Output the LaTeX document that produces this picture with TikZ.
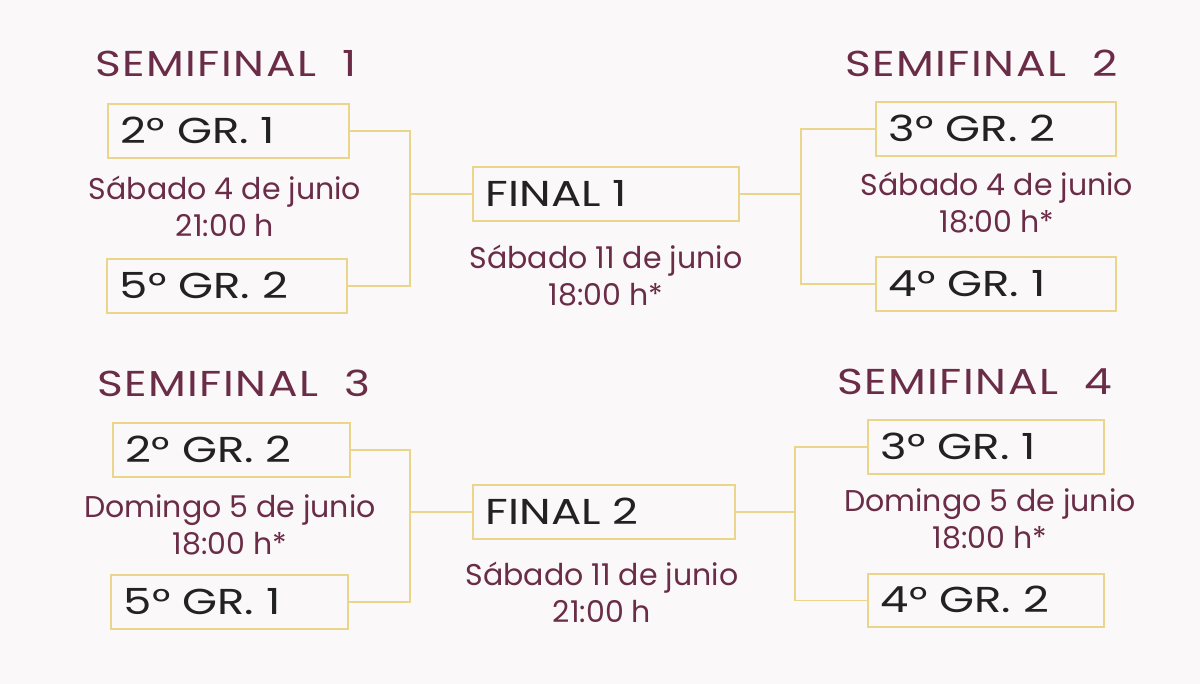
\documentclass[tikz,border=0pt]{standalone}
\usepackage{fontspec}
\setmainfont{Poppins}
\newfontfamily\boxfont{Poppins}[FakeStretch=1.25]
\newfontfamily\titlefont{Poppins}[FakeStretch=1.22, LetterSpace=4]
\definecolor{bg}{HTML}{FAF8F8}
\definecolor{gold}{HTML}{EBD58A}
\definecolor{maroon}{HTML}{6A2C47}
\definecolor{ink}{HTML}{222222}
\tikzset{
  teambox/.style={draw=gold, line width=1.6pt, rectangle, anchor=north west, inner xsep=13pt, inner ysep=0pt,
    text=ink, font=\boxfont\fontsize{36}{40}\selectfont, text height=25pt, text depth=0pt},
  sftitle/.style={anchor=base west, inner sep=0pt, text=maroon, font=\titlefont\fontsize{36}{42}\selectfont},
  datelbl/.style={anchor=base, inner sep=0pt, align=center, text=maroon, font=\fontsize{30}{37}\selectfont},
  link/.style={draw=gold, line width=1.6pt}
}
\newcommand{\tbox}[6]{\node[teambox, minimum width={#4-#2}, minimum height={#5-#3}] (#1) at (#2,#3) {\makebox[\dimexpr #4pt-#2pt-26pt\relax][l]{#6}};}
\begin{document}
\begin{tikzpicture}[x=1pt, y=-1pt]
\fill[bg] (0,0) rectangle (1200,684);
\useasboundingbox (0,0) rectangle (1200,684);
% titles
\node[sftitle] (t1) at (95,77) {SEMIFINAL\ \ 1};
\node[sftitle] (t2) at (845,77) {SEMIFINAL\ \ 2};
\node[sftitle] (t3) at (97,397) {SEMIFINAL\ \ 3};
\node[sftitle] (t4) at (837,395) {SEMIFINAL\ \ 4};
% boxes
\tbox{a1}{107}{103}{348}{157}{2° GR. 1}
\tbox{a2}{106}{258}{346}{312}{5° GR. 2}
\tbox{f1}{472}{166}{738}{220}{FINAL 1}
\tbox{b1}{875}{101}{1115}{155}{3° GR. 2}
\tbox{b2}{875}{256}{1115}{310}{4° GR. 1}
\tbox{c1}{112}{422}{349}{476}{2° GR. 2}
\tbox{c2}{110}{574}{347}{628}{5° GR. 1}
\tbox{f2}{472}{484}{734}{538}{FINAL 2}
\tbox{d1}{867}{419}{1103}{473}{3° GR. 1}
\tbox{d2}{867}{573}{1103}{626}{4° GR. 2}
% dates (base = baseline of the last line)
\node[datelbl] (la) at (225,237) {Sábado 4 de junio\\21:00 h};
\node[datelbl] (lb) at (997,233) {Sábado 4 de junio\\18:00 h*};
\node[datelbl] (lf1) at (606,306) {Sábado 11 de junio\\18:00 h*};
\node[datelbl] (lc) at (230,554) {Domingo 5 de junio\\18:00 h*};
\node[datelbl] (ld) at (990,548) {Domingo 5 de junio\\18:00 h*};
\node[datelbl] (lf2) at (602,622) {Sábado 11 de junio\\21:00 h};
% junctions
\coordinate (ja) at (f1.west -| 410,0);
\coordinate (jb) at (f1.east -| 801,0);
\coordinate (jc) at (f2.west -| 410,0);
\coordinate (jd) at (f2.east -| 795,0);
% connectors
\draw[link] (a1.east) -| (ja) |- (a2.east);
\draw[link] (ja) -- (f1.west);
\draw[link] (b1.west) -| (jb) |- (b2.west);
\draw[link] (jb) -- (f1.east);
\draw[link] (c1.east) -| (jc) |- (c2.east);
\draw[link] (jc) -- (f2.west);
\draw[link] (d1.west) -| (jd) |- (d2.west);
\draw[link] (jd) -- (f2.east);
\end{tikzpicture}
\end{document}
